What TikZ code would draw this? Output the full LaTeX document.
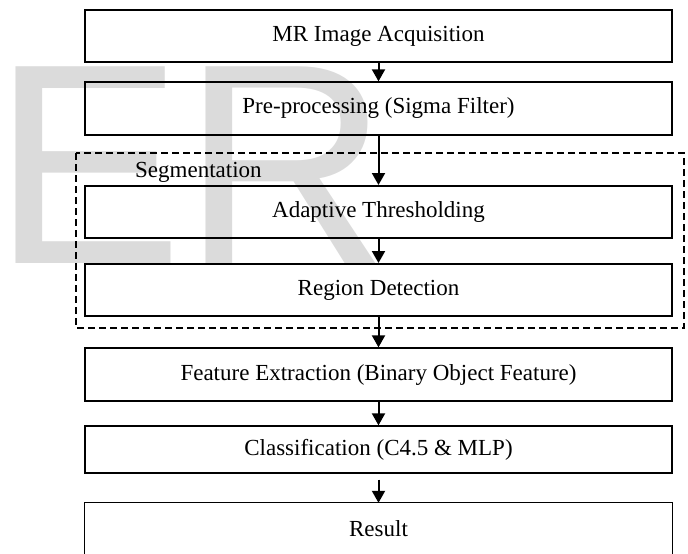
\documentclass[tikz,border=0pt]{standalone}
\usepackage{fontspec}
\setmainfont{Liberation Serif}
\newfontfamily\wmfont{Liberation Sans}
\usetikzlibrary{arrows.meta}

\begin{document}
\begin{tikzpicture}[
    x=1pt, y=-1pt,
    every node/.style={
        font=\fontsize{23}{27}\selectfont,
    },
    stage/.style={draw, line width=1.3pt, minimum width=587pt, minimum height=52pt, inner sep=0pt},
    flow/.style={-{Triangle[length=12pt,width=13pt]}, line width=2pt},
    seg/.style={line width=2pt, dash pattern=on 7pt off 4pt},
]
    \useasboundingbox (0,0) rectangle (688,554);
    % watermark behind everything
    \node[anchor=base west, inner sep=0pt, text=black!14, font=\wmfont\fontsize{286}{286}\selectfont] (wm) at (-8,263) {ER};

    \node[stage, line width=2.8pt] (acq) at (378.5,36) {MR Image Acquisition};
    \node[stage, minimum height=53pt] (pre) at (378.5,108.5) {Pre-processing (Sigma Filter)};
    \draw[seg] (76,153) rectangle (684,328);
    \node[anchor=base west, inner sep=0pt] (seglabel) at (135,177) {Segmentation};
    \node[stage, line width=2pt] (thr) at (378.5,212) {Adaptive Thresholding};
    \node[stage, line width=2pt] (reg) at (378.5,290) {Region Detection};
    \node[stage, minimum height=53pt] (feat) at (378.5,374.5) {Feature Extraction (Binary Object Feature)};
    \node[stage, minimum height=47pt] (cls) at (378.5,449.5) {Classification (C4.5 \& MLP)};
    \node[minimum width=587pt, minimum height=51pt, inner sep=0pt] (res) at (378.5,528.5) {Result};
    \draw[line width=1.3pt] (res.south west) -- (res.north west) -- (res.north east) -- (res.south east);

    \draw[flow] (acq) -- (pre);
    \draw[flow] (pre) -- (thr);
    \draw[flow] (thr) -- (reg);
    \draw[flow] (reg) -- (feat);
    \draw[flow] (feat) -- (cls);
    \draw[flow] ([yshift=-6pt]cls.south) -- (res);
\end{tikzpicture}
\end{document}
